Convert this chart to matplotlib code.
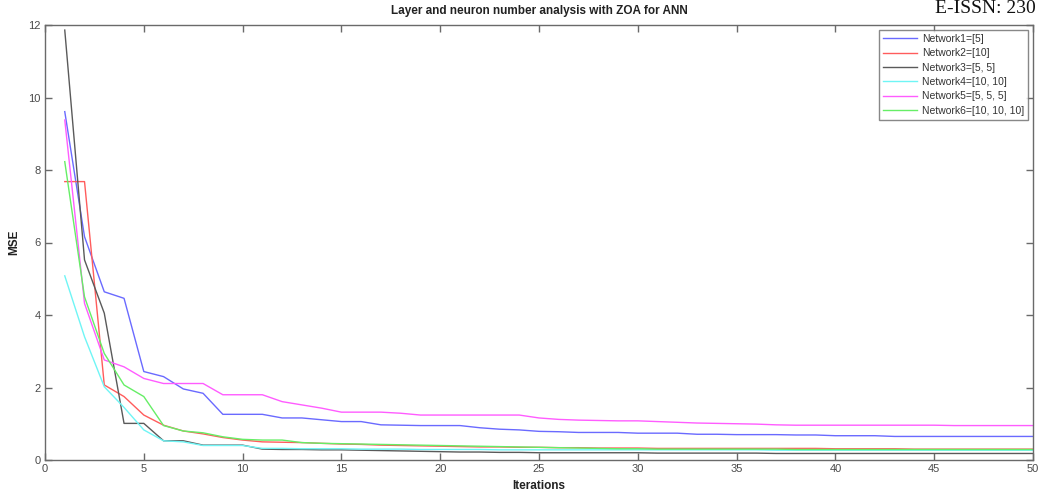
import matplotlib
matplotlib.use("Agg")
import matplotlib.pyplot as plt
import numpy as np

plt.rcParams['font.family'] = ['Liberation Sans', 'DejaVu Sans']

title = "Layer and neuron number analysis with ZOA for ANN"
xlabel = "Iterations"
ylabel = "MSE"
labels = ["Network1=[5]", "Network2=[10]", "Network3=[5, 5]",
          "Network4=[10, 10]", "Network5=[5, 5, 5]", "Network6=[10, 10, 10]"]
colors = ["#6a6aff", "#ff5c5c", "#5a5a5a", "#6ff5f5", "#ff5cff", "#66ee66"]

iterations = list(range(1, 51))

network1 = [9.61, 6.16, 4.64, 4.46, 2.44, 2.30, 1.96, 1.84, 1.26, 1.26,
            1.26, 1.16, 1.16, 1.11, 1.06, 1.06, 0.97, 0.96, 0.95, 0.95,
            0.95, 0.89, 0.85, 0.83, 0.79, 0.78, 0.76, 0.76, 0.76, 0.74,
            0.74, 0.74, 0.71, 0.71, 0.70, 0.70, 0.70, 0.69, 0.69, 0.67,
            0.67, 0.67, 0.65, 0.65, 0.65, 0.65, 0.65, 0.65, 0.65, 0.65]
network2 = [7.68, 7.68, 2.07, 1.75, 1.24, 0.96, 0.80, 0.72, 0.62, 0.55,
            0.50, 0.49, 0.48, 0.46, 0.44, 0.43, 0.41, 0.40, 0.39, 0.38,
            0.37, 0.36, 0.36, 0.35, 0.35, 0.34, 0.34, 0.33, 0.33, 0.33,
            0.32, 0.32, 0.32, 0.32, 0.32, 0.32, 0.32, 0.32, 0.32, 0.31,
            0.31, 0.31, 0.31, 0.30, 0.30, 0.30, 0.30, 0.30, 0.30, 0.30]
network3 = [11.86, 5.52, 4.05, 1.01, 1.01, 0.53, 0.53, 0.41, 0.41, 0.41,
            0.30, 0.29, 0.29, 0.28, 0.28, 0.27, 0.26, 0.25, 0.24, 0.23,
            0.22, 0.22, 0.21, 0.21, 0.20, 0.20, 0.20, 0.20, 0.20, 0.20,
            0.19, 0.19, 0.19, 0.19, 0.19, 0.19, 0.18, 0.18, 0.18, 0.18,
            0.18, 0.18, 0.18, 0.18, 0.18, 0.18, 0.18, 0.18, 0.18, 0.18]
network4 = [5.08, 3.40, 2.02, 1.45, 0.83, 0.53, 0.50, 0.40, 0.40, 0.40,
            0.32, 0.32, 0.31, 0.31, 0.31, 0.30, 0.30, 0.30, 0.29, 0.29,
            0.29, 0.29, 0.28, 0.28, 0.28, 0.28, 0.28, 0.28, 0.28, 0.28,
            0.28, 0.28, 0.28, 0.28, 0.28, 0.28, 0.27, 0.27, 0.27, 0.27,
            0.27, 0.27, 0.27, 0.27, 0.27, 0.27, 0.27, 0.27, 0.27, 0.27]
network5 = [9.38, 4.32, 2.76, 2.57, 2.25, 2.11, 2.11, 2.11, 1.80, 1.80,
            1.80, 1.61, 1.52, 1.43, 1.32, 1.32, 1.32, 1.29, 1.24, 1.24,
            1.24, 1.24, 1.24, 1.24, 1.16, 1.12, 1.10, 1.09, 1.08, 1.08,
            1.06, 1.04, 1.02, 1.01, 1.00, 0.99, 0.97, 0.96, 0.96, 0.96,
            0.96, 0.96, 0.96, 0.96, 0.96, 0.95, 0.95, 0.95, 0.95, 0.95]
network6 = [8.23, 4.50, 2.94, 2.07, 1.75, 0.95, 0.80, 0.75, 0.64, 0.57,
            0.55, 0.55, 0.48, 0.46, 0.45, 0.44, 0.43, 0.42, 0.41, 0.40,
            0.39, 0.38, 0.37, 0.36, 0.35, 0.34, 0.33, 0.32, 0.31, 0.31,
            0.30, 0.30, 0.30, 0.30, 0.30, 0.30, 0.30, 0.29, 0.29, 0.29,
            0.29, 0.29, 0.29, 0.29, 0.29, 0.29, 0.29, 0.29, 0.29, 0.29]

series = [network1, network2, network3, network4, network5, network6]

fig = plt.figure(figsize=(10.39, 4.92), dpi=100)
ax = fig.add_axes([45/1039, 32/492, 988/1039, 435/492])

for vals, lab, col in zip(series, labels, colors):
    ax.plot(iterations, vals, color=col, lw=1.0, label=lab)

ax.set_xlim(0, 50)
ax.set_ylim(0, 12)
ax.set_xticks(range(0, 51, 5))
ax.set_yticks(range(0, 13, 2))

spine_col = "#6a6a6a"
for s in ax.spines.values():
    s.set_color(spine_col)
    s.set_linewidth(1.0)
ax.tick_params(direction='in', top=True, right=True, length=5, width=1.0,
               colors=spine_col, labelcolor="#4a4a4a", labelsize=8, pad=3)

ax.set_title(title, fontsize=8.5, fontweight='bold', color="#222222", pad=8)
ax.set_xlabel(xlabel, fontsize=8.5, fontweight='bold', color="#222222", labelpad=4)
ax.set_ylabel(ylabel, fontsize=8.5, fontweight='bold', color="#222222", labelpad=6)

leg = ax.legend(loc='upper right', fontsize=7.5, frameon=True, fancybox=False,
                edgecolor="#6a6a6a", handlelength=3.2, handletextpad=0.5,
                borderpad=0.4, labelspacing=0.42, borderaxespad=0.45)
leg.get_frame().set_linewidth(1.0)
for t in leg.get_texts():
    t.set_color("#333333")

fig.text(1036/1039, 1.0, "E-ISSN: 230", fontsize=14, family='Liberation Serif',
         ha='right', va='top', color="#111111")

fig.savefig("out.png", dpi=100, facecolor='white')
